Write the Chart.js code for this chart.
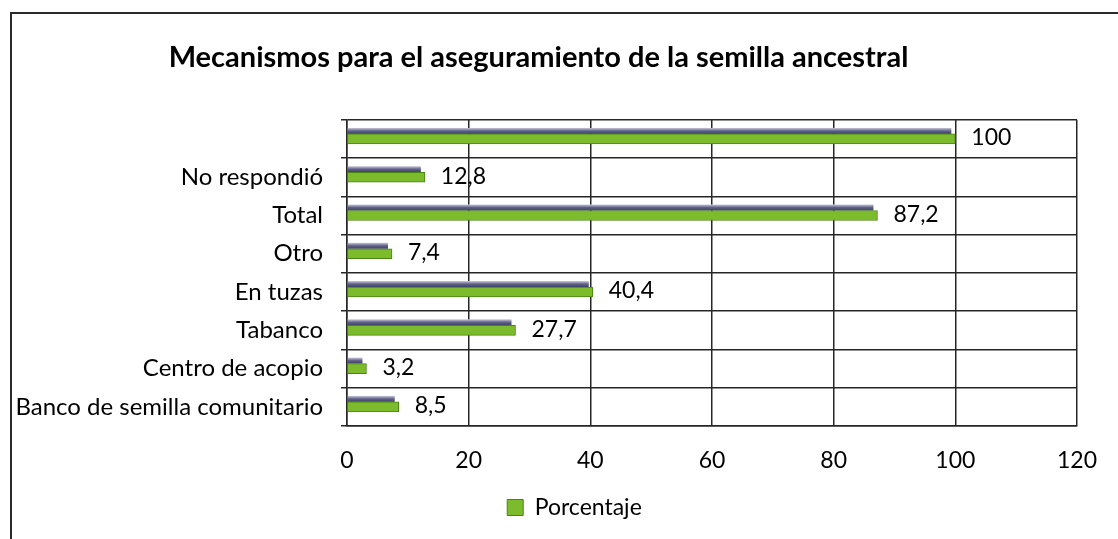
<!DOCTYPE html>
<html>
<head>
<meta charset="utf-8">
<script src="https://cdn.jsdelivr.net/npm/chart.js@4.4.0/dist/chart.umd.min.js"></script>
<style>
  body { margin: 0; background: #fff; }
  #wrap { position: relative; width: 1118px; height: 539px; overflow: hidden; }
  #frame { position: absolute; left: 10px; top: 12px; width: 1200px; height: 600px;
           border-left: 2px solid #2a2a2a; border-top: 2px solid #2a2a2a; }
  canvas { position: absolute; left: 0; top: 0; }
</style>
</head>
<body>
<div id="wrap">
  <div id="frame"></div>
  <canvas id="chart" width="1118" height="539"></canvas>
</div>
<script>
// datos (de arriba hacia abajo)
const categorias = [
  "",
  "No respondió",
  "Total",
  "Otro",
  "En tuzas",
  "Tabanco",
  "Centro de acopio",
  "Banco de semilla comunitario",
];
const porcentaje = [100, 12.8, 87.2, 7.4, 40.4, 27.7, 3.2, 8.5];
const ejeMin = 0;
const ejeMax = 120;
const ejePaso = 20;

const FONT = "Lato, 'Open Sans', sans-serif";

// sombra gris-azulada encima de cada barra (efecto 3D de Excel)
const barShadow = {
  id: "barShadow",
  beforeDatasetsDraw(chart) {
    const ctx = chart.ctx;
    const meta = chart.getDatasetMeta(0);
    meta.data.forEach((bar) => {
      const top = bar.y - bar.height / 2;
      const w = bar.x - bar.base - 4;
      if (w <= 0) return;
      const g = ctx.createLinearGradient(0, top - 6, 0, top);
      g.addColorStop(0, "#c9c9d6");
      g.addColorStop(0.5, "#5f6189");
      g.addColorStop(1, "#3e4068");
      ctx.save();
      ctx.fillStyle = g;
      ctx.fillRect(bar.base, top - 6, w, 6);
      ctx.restore();
    });
  },
};

// etiquetas de valor con coma decimal
const valueLabels = {
  id: "valueLabels",
  afterDatasetsDraw(chart) {
    const ctx = chart.ctx;
    const meta = chart.getDatasetMeta(0);
    ctx.save();
    ctx.font = "23px " + FONT;
    ctx.fillStyle = "#000";
    ctx.textAlign = "left";
    ctx.textBaseline = "middle";
    meta.data.forEach((bar, i) => {
      const txt = String(porcentaje[i]).replace(".", ",");
      ctx.fillText(txt, bar.x + 16, bar.y - 1);
    });
    ctx.restore();
  },
};

// mover la leyenda un poco a la derecha como en el original
const legendShift = {
  id: "legendShift",
  afterLayout(chart) {
    const lg = chart.legend;
    if (lg) {
      lg.left += 36;
      lg.right += 36;
    }
  },
};

function barGradient(context) {
  const chart = context.chart;
  const el = context.element;
  if (!chart.chartArea || !el || el.y === undefined) return "#7cbc2c";
  const top = el.y - el.height / 2;
  const g = chart.ctx.createLinearGradient(0, top, 0, top + el.height);
  g.addColorStop(0, "#b6e05a");
  g.addColorStop(0.45, "#8cc63a");
  g.addColorStop(1, "#4f8f16");
  return g;
}

const ctx = document.getElementById("chart").getContext("2d");
new Chart(ctx, {
  type: "bar",
  data: {
    labels: categorias,
    datasets: [
      {
        label: "Porcentaje",
        data: porcentaje,
        backgroundColor: barGradient,
        borderColor: "#4a8512",
        borderWidth: 1,
        barThickness: 10,
      },
    ],
  },
  options: {
    indexAxis: "y",
    responsive: false,
    animation: false,
    layout: { padding: { left: 0, right: 41, top: 0, bottom: 10 } },
    plugins: {
      title: {
        display: true,
        text: "Mecanismos para el aseguramiento de la semilla ancestral",
        color: "#000",
        font: { family: FONT, size: 29, weight: "bold" },
        padding: { top: 40, bottom: 45 },
      },
      legend: {
        position: "bottom",
        labels: {
          color: "#000",
          font: { family: FONT, size: 23 },
          boxWidth: 16,
          boxHeight: 16,
          padding: 8,
          generateLabels(chart) {
            return [
              {
                text: "Porcentaje",
                fillStyle: "#7cbc2c",
                strokeStyle: "#4a8512",
                lineWidth: 1,
                fontColor: "#000",
                datasetIndex: 0,
              },
            ];
          },
        },
      },
      tooltip: { enabled: false },
    },
    scales: {
      x: {
        min: ejeMin,
        max: ejeMax,
        ticks: {
          stepSize: ejePaso,
          color: "#000",
          padding: 21,
          font: { family: FONT, size: 23 },
        },
        grid: { color: "#262626", lineWidth: 1.5, drawTicks: false },
        border: { color: "#262626", width: 1.5 },
        afterFit(scale) {
          scale.height = 62;
        },
      },
      y: {
        ticks: {
          color: "#000",
          padding: 18,
          font: { family: FONT, size: 24 },
        },
        grid: { color: "#262626", lineWidth: 1.5, drawTicks: true, tickLength: 6 },
        border: { color: "#262626", width: 1.5 },
        afterFit(scale) {
          scale.width = 347;
        },
      },
    },
  },
  plugins: [barShadow, valueLabels, legendShift],
});
</script>
</body>
</html>
